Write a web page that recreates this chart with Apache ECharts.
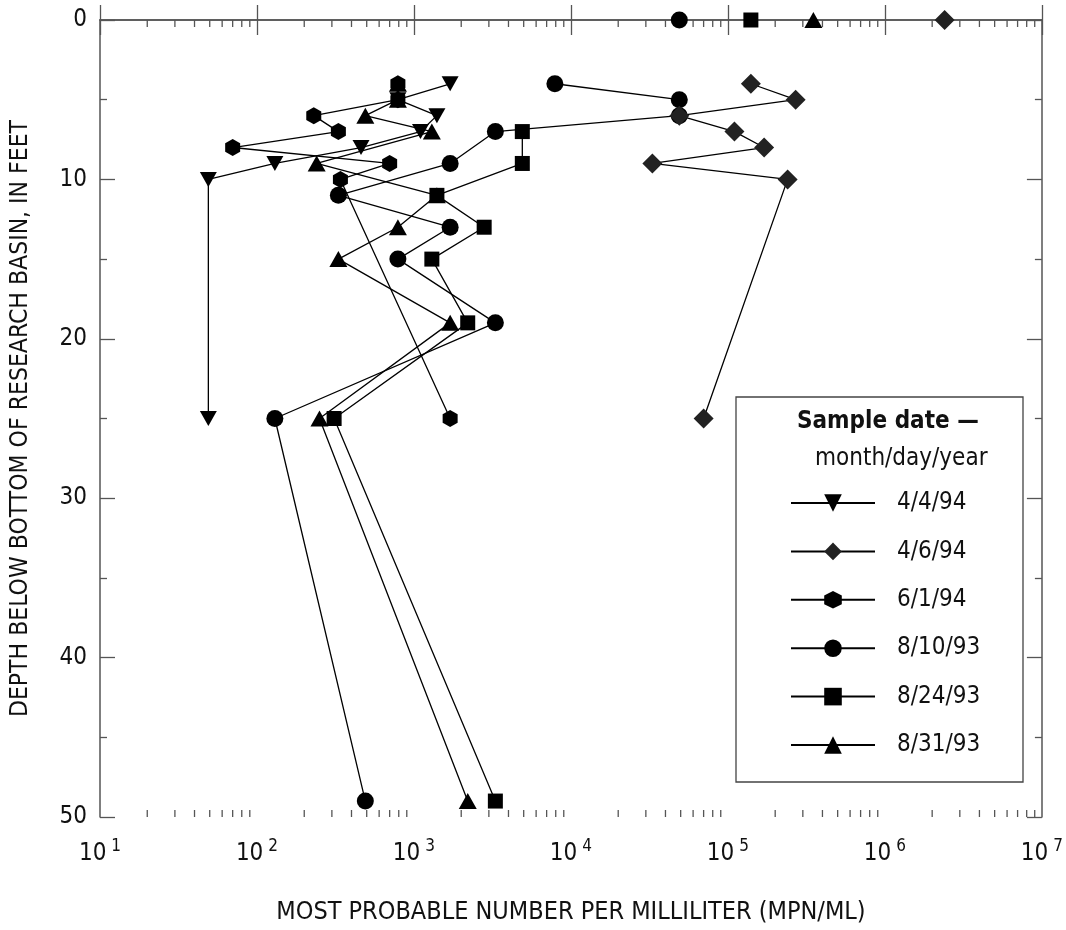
<!DOCTYPE html>
<html>
<head>
<meta charset="utf-8">
<script src="https://cdn.jsdelivr.net/npm/echarts@6/dist/echarts.min.js"></script>
<style>
  html, body { margin: 0; padding: 0; background: #fff; }
  #chart { width: 1066px; height: 930px; }
</style>
</head>
<body>
<div id="chart"></div>
<script>
// Sample dates shown in the legend
const sampleDates = ['4/4/94', '4/6/94', '6/1/94', '8/10/93', '8/24/93', '8/31/93'];

// Depth below basin bottom (feet) and MPN per milliliter for each sampling date.
// A null depth separates the land-surface reading (depth 0) from the profile.
const depth_4_4_94 = [4, 5, 6, 7, 8, 9, 10, 25];
const mpn_4_4_94   = [1700, 790, 1400, 1100, 460, 130, 49, 49];

const depth_4_6_94 = [0, null, 4, 5, 6, 7, 8, 9, 10, 25];
const mpn_4_6_94   = [2400000, null, 140000, 270000, 49000, 110000, 170000, 33000, 240000, 70000];

const depth_6_1_94 = [4, 5, 6, 7, 8, 9, 10, 25];
const mpn_6_1_94   = [790, 790, 230, 330, 70, 700, 340, 1700];

const depth_8_10_93 = [0, null, 4, 5, 6, 7, 9, 11, 13, 15, 19, 25, 49];
const mpn_8_10_93   = [49000, null, 7900, 49000, 49000, 3300, 1700, 330, 1700, 790, 3300, 130, 490];

const depth_8_24_93 = [0, null, 7, 9, 11, 13, 15, 19, 25, 49];
const mpn_8_24_93   = [140000, null, 4900, 4900, 1400, 2800, 1300, 2200, 310, 3300];

const depth_8_31_93 = [0, null, 4, 5, 6, 7, 9, 11, 13, 15, 19, 25, 49];
const mpn_8_31_93   = [350000, null, 790, 790, 490, 1300, 240, 1400, 790, 330, 1700, 250, 2200];

// Axis ticks
const depthTicks = [0, 10, 20, 30, 40, 50];
const xMin = 10, xMax = 1e7;

const FONT = "'Liberation Sans Narrow', 'DejaVu Sans Condensed', 'Roboto', sans-serif";
const AXIS_COLOR = '#555';

const hexagon = 'path://M0,-1 L0.866,-0.5 L0.866,0.5 L0,1 L-0.866,0.5 L-0.866,-0.5 Z';
const diamond = 'path://M0,-1 L1,0 L0,1 L-1,0 Z';

const markerStyles = {
  '4/4/94':  { symbol: 'triangle', symbolSize: [17, 15], symbolRotate: 180, color: '#000' },
  '4/6/94':  { symbol: diamond, symbolSize: [20, 20], symbolRotate: 0, color: '#222' },
  '6/1/94':  { symbol: hexagon, symbolSize: [15, 17], symbolRotate: 0, color: '#000' },
  '8/10/93': { symbol: 'circle', symbolSize: 17, symbolRotate: 0, color: '#000' },
  '8/24/93': { symbol: 'rect', symbolSize: 15, symbolRotate: 0, color: '#000' },
  '8/31/93': { symbol: 'triangle', symbolSize: [18, 16], symbolRotate: 0, color: '#000' }
};

const profiles = {
  '4/4/94':  [depth_4_4_94, mpn_4_4_94],
  '4/6/94':  [depth_4_6_94, mpn_4_6_94],
  '6/1/94':  [depth_6_1_94, mpn_6_1_94],
  '8/10/93': [depth_8_10_93, mpn_8_10_93],
  '8/24/93': [depth_8_24_93, mpn_8_24_93],
  '8/31/93': [depth_8_31_93, mpn_8_31_93]
};

// Drawing order (later series sit on top where markers overlap)
const drawOrder = ['4/4/94', '6/1/94', '8/31/93', '8/10/93', '8/24/93', '4/6/94'];

function pairs(depths, values) {
  return depths.map((d, i) => d === null ? ['-', '-'] : [values[i], d]);
}

// Minor tick positions on the log axis: 2..9 within each decade
const minorTickValues = [];
for (let e = 1; e < 7; e++) {
  for (let m = 2; m <= 9; m++) minorTickValues.push(m * Math.pow(10, e));
}

const lineSeries = drawOrder.map((name) => ({
  name: name,
  type: 'line',
  data: pairs(profiles[name][0], profiles[name][1]),
  symbol: markerStyles[name].symbol,
  symbolSize: markerStyles[name].symbolSize,
  symbolRotate: markerStyles[name].symbolRotate,
  showAllSymbol: true,
  connectNulls: false,
  clip: false,
  lineStyle: { color: '#000', width: 1.3 },
  itemStyle: { color: markerStyles[name].color, borderWidth: 0 },
  emphasis: { disabled: true },
  animation: false,
  z: 3
}));

const minorTickSeries = {
  type: 'custom',
  name: 'minor-ticks',
  data: minorTickValues.map(v => [v]),
  silent: true,
  clip: false,
  animation: false,
  z: 1,
  renderItem: function (params, api) {
    const v = api.value(0);
    const bottom = api.coord([v, 50]);
    const top = api.coord([v, 0]);
    const style = { stroke: AXIS_COLOR, lineWidth: 1.3 };
    return {
      type: 'group',
      children: [
        { type: 'line', shape: { x1: bottom[0], y1: bottom[1], x2: bottom[0], y2: bottom[1] - 7 }, style: style },
        { type: 'line', shape: { x1: top[0], y1: top[1], x2: top[0], y2: top[1] + 7 }, style: style }
      ]
    };
  }
};

const chart = echarts.init(document.getElementById('chart'), null, { renderer: 'canvas' });

const axisLine = { show: true, lineStyle: { color: AXIS_COLOR, width: 1.5 } };

chart.setOption({
  backgroundColor: '#fff',
  animation: false,
  grid: { left: 89, top: 20, right: 17, bottom: 110, containLabel: false },
  xAxis: [
    {
      type: 'log', logBase: 10, min: xMin, max: xMax, position: 'bottom',
      name: 'MOST PROBABLE NUMBER PER MILLILITER (MPN/ML)',
      nameLocation: 'middle', nameGap: 83,
      nameTextStyle: { fontFamily: FONT, fontSize: 25, color: '#111' },
      axisLine: axisLine,
      axisTick: { show: true, inside: true, length: 15, lineStyle: { color: AXIS_COLOR, width: 1.3 } },
      splitLine: { show: false },
      axisLabel: {
        margin: 21,
        formatter: function (v) {
          const e = Math.round(Math.log10(v));
          return '{b|10}{s|' + e + '}';
        },
        rich: {
          b: { fontFamily: FONT, fontSize: 24, color: '#111', lineHeight: 28, verticalAlign: 'bottom' },
          s: { fontFamily: FONT, fontSize: 17, color: '#111', lineHeight: 12, verticalAlign: 'top', padding: [0, 0, 0, 5] }
        }
      }
    },
    {
      type: 'log', logBase: 10, min: xMin, max: xMax, position: 'top',
      axisLine: axisLine,
      axisTick: { show: true, inside: true, length: 15, lineStyle: { color: AXIS_COLOR, width: 1.3 } },
      axisLabel: { show: false },
      splitLine: { show: false }
    }
  ],
  yAxis: [
    {
      type: 'value', inverse: true, min: depthTicks[0], max: depthTicks[depthTicks.length - 1], interval: 10,
      position: 'left',
      name: 'DEPTH BELOW BOTTOM OF RESEARCH BASIN, IN FEET',
      nameLocation: 'middle', nameGap: 67, nameRotate: 90,
      nameTextStyle: { fontFamily: FONT, fontSize: 24.5, color: '#111' },
      axisLine: axisLine,
      axisTick: { show: true, inside: true, length: 15, lineStyle: { color: AXIS_COLOR, width: 1.3 } },
      minorTick: { show: true, splitNumber: 2, length: 7, lineStyle: { color: AXIS_COLOR, width: 1.3 } },
      axisLabel: { margin: 13, fontFamily: FONT, fontSize: 24, color: '#111' },
      splitLine: { show: false }
    },
    {
      type: 'value', inverse: true, min: depthTicks[0], max: depthTicks[depthTicks.length - 1], interval: 10,
      position: 'right',
      axisLine: axisLine,
      axisTick: { show: true, inside: true, length: 15, lineStyle: { color: AXIS_COLOR, width: 1.3 } },
      minorTick: { show: true, splitNumber: 2, length: 7, lineStyle: { color: AXIS_COLOR, width: 1.3 } },
      axisLabel: { show: false },
      splitLine: { show: false }
    }
  ],
  legend: {
    data: sampleDates,
    orient: 'vertical',
    left: 790, top: 491,
    padding: 0,
    itemWidth: 84, itemHeight: 22, itemGap: 24.4,
    selectedMode: false,
    textStyle: { fontFamily: FONT, fontSize: 24, color: '#111', padding: [0, 0, 0, 17] }
  },
  graphic: [
    { type: 'rect', shape: { x: 736, y: 397, width: 287, height: 385 },
      style: { fill: '#fff', stroke: '#444', lineWidth: 1.3 }, z: 0, silent: true },
    { type: 'text', left: 797, top: 410,
      style: { text: 'Sample date —', font: 'bold 24px ' + FONT, fill: '#111' }, z: 5, silent: true },
    { type: 'text', left: 815, top: 447,
      style: { text: 'month/day/year', font: '24px ' + FONT, fill: '#111' }, z: 5, silent: true }
  ],
  series: lineSeries.concat([minorTickSeries])
});
</script>
</body>
</html>
